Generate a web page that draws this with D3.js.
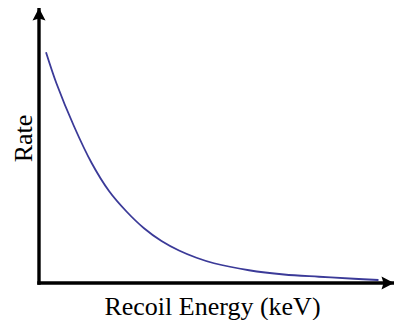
<!DOCTYPE html>
<html>
<head>
<meta charset="utf-8">
<script src="https://cdn.jsdelivr.net/npm/d3@7"></script>
<style>
  html, body { margin: 0; padding: 0; background: #fff; }
  svg { display: block; }
</style>
</head>
<body>
<svg id="chart" width="396" height="320"></svg>
<script>
// Recoil energy (keV) and event rate (arbitrary units) for the falling spectrum
const energy = [2, 5, 10, 15, 20, 25, 30, 35, 40, 45, 50, 60, 70, 80, 90, 97];
const rate = [92.3, 79.8, 62.7, 48.1, 36.8, 28.6, 21.9, 16.8, 13.0, 10.1, 7.9, 5.1, 3.4, 2.5, 1.7, 1.2];
const xTitle = "Recoil Energy (keV)";
const yTitle = "Rate";

const svg = d3.select("#chart");
const origin = { x: 39, y: 283 };

const x = d3.scaleLinear().domain([0, 100]).range([origin.x, 389]);
const y = d3.scaleLinear().domain([0, 100]).range([origin.y, 33]);

// arrowhead marker
const defs = svg.append("defs");
defs.append("marker")
  .attr("id", "arrow")
  .attr("viewBox", "-13 -7 14 14")
  .attr("refX", 0).attr("refY", 0)
  .attr("markerWidth", 14).attr("markerHeight", 14)
  .attr("markerUnits", "userSpaceOnUse")
  .attr("orient", "auto")
  .append("path")
  .attr("d", "M0,0 L-12.5,-6.5 L-10.5,0 L-12.5,6.5 Z")
  .attr("fill", "#000");

// axes
svg.append("line")
  .attr("x1", origin.x).attr("y1", origin.y + 1.7)
  .attr("x2", origin.x).attr("y2", 8)
  .attr("stroke", "#000").attr("stroke-width", 3.4)
  .attr("marker-end", "url(#arrow)");

svg.append("line")
  .attr("x1", origin.x - 1.7).attr("y1", origin.y)
  .attr("x2", 394).attr("y2", origin.y)
  .attr("stroke", "#000").attr("stroke-width", 3.4)
  .attr("marker-end", "url(#arrow)");

// spectrum curve
const line = d3.line()
  .x((d, i) => x(energy[i]))
  .y(d => y(d))
  .curve(d3.curveCatmullRom.alpha(0.5));

svg.append("path")
  .datum(rate)
  .attr("d", line)
  .attr("fill", "none")
  .attr("stroke", "#3b3a98")
  .attr("stroke-width", 1.8);

// axis titles
const serif = '"Liberation Serif", "Times New Roman", Times, serif';

svg.append("text")
  .attr("x", 212.5).attr("y", 315)
  .attr("text-anchor", "middle")
  .style("font-family", serif)
  .style("font-size", "26px")
  .attr("fill", "#000")
  .text(xTitle);

svg.append("text")
  .attr("transform", "translate(32,138.5) rotate(-90)")
  .attr("text-anchor", "middle")
  .style("font-family", serif)
  .style("font-size", "26px")
  .attr("fill", "#000")
  .text(yTitle);
</script>
</body>
</html>
